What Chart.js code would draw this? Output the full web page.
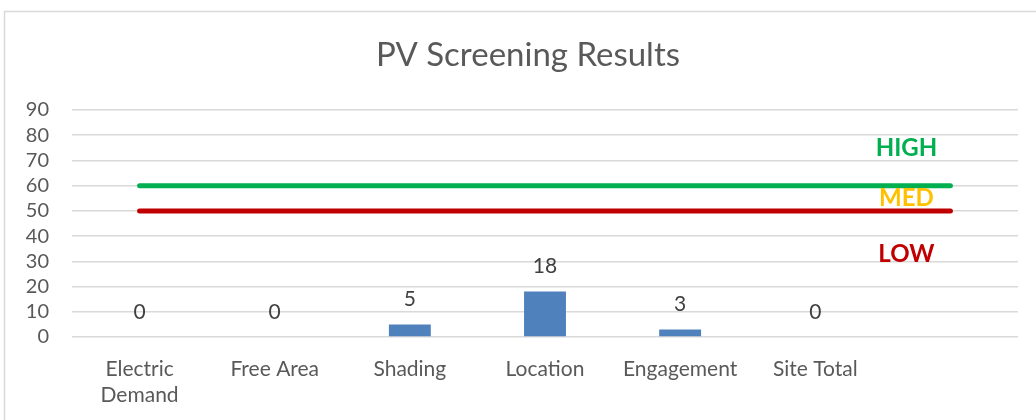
<!DOCTYPE html>
<html>
<head>
<meta charset="utf-8">
<script src="https://cdn.jsdelivr.net/npm/chart.js@4"></script>
<style>
  html, body { margin: 0; padding: 0; background: #fff; }
  #wrap { position: relative; width: 1036px; height: 420px; }
</style>
</head>
<body>
<div id="wrap"><canvas id="chart" width="1036" height="420"></canvas></div>
<script>
const categories = [['Electric', 'Demand'], 'Free Area', 'Shading', 'Location', 'Engagement', 'Site Total', ''];
const scores = [0, 0, 5, 18, 3, 0, null];
const highLine = [60, 60, 60, 60, 60, 60, 60];
const medLine = [50, 50, 50, 50, 50, 50, 50];
const bandLabels = ['HIGH', 'MED', 'LOW'];
const bandLabelValues = [75, 55, 33];
const bandColors = ['#00B050', '#FFC000', '#C00000'];

const FONT = 'Lato, "DejaVu Sans", sans-serif';

const extras = {
  id: 'extras',
  beforeDraw(chart) {
    const ctx = chart.ctx;
    ctx.save();
    ctx.fillStyle = '#fff';
    ctx.fillRect(0, 0, chart.width, chart.height);
    ctx.strokeStyle = '#d9d9d9';
    ctx.lineWidth = 1.5;
    ctx.strokeRect(4.5, 11.5, 1200, 600);
    ctx.restore();
  },
  afterDatasetsDraw(chart) {
    const ctx = chart.ctx;
    const x = chart.scales.x;
    const y = chart.scales.y;
    ctx.save();
    ctx.font = '33px ' + FONT;
    ctx.fillStyle = '#595959';
    ctx.textAlign = 'center';
    ctx.textBaseline = 'middle';
    ctx.fillText('PV Screening Results', 528, 55);

    // value labels above bars
    ctx.font = '21px ' + FONT;
    ctx.fillStyle = '#404040';
    scores.forEach((v, i) => {
      if (v === null) return;
      ctx.fillText(String(v), x.getPixelForValue(i), y.getPixelForValue(v) - 25);
    });

    // band labels
    ctx.font = 'bold 24px ' + FONT;
    bandLabels.forEach((t, i) => {
      ctx.fillStyle = bandColors[i];
      ctx.fillText(t, x.getPixelForValue(6) - 44, y.getPixelForValue(bandLabelValues[i]));
    });
    ctx.restore();
  }
};

new Chart(document.getElementById('chart').getContext('2d'), {
  type: 'bar',
  data: {
    labels: categories,
    datasets: [
      {
        type: 'line',
        data: highLine,
        borderColor: '#00B050',
        borderWidth: 5,
        borderCapStyle: 'round',
        pointRadius: 0,
        order: 0,
      },
      {
        type: 'line',
        data: medLine,
        borderColor: '#C00000',
        borderWidth: 5,
        borderCapStyle: 'round',
        pointRadius: 0,
        order: 0,
      },
      {
        data: scores,
        backgroundColor: '#4F81BD',
        barPercentage: 0.31,
        categoryPercentage: 1,
        order: 1,
      },
    ],
  },
  options: {
    responsive: false,
    animation: false,
    layout: { padding: { top: 110, right: 18, left: 0, bottom: 0 } },
    plugins: {
      legend: { display: false },
      tooltip: { enabled: false },
      title: { display: false },
    },
    scales: {
      x: {
        grid: { display: false, drawTicks: false },
        border: { display: false },
        ticks: {
          color: '#595959',
          font: { family: FONT, size: 21 },
          padding: 20,
          maxRotation: 0,
          autoSkip: false,
        },
        afterFit(s) { s.height = 83; },
      },
      y: {
        min: 0,
        max: 90,
        ticks: {
          stepSize: 10,
          autoSkip: false,
          color: '#595959',
          font: { family: FONT, size: 20 },
          padding: 23,
        },
        grid: { color: '#d9d9d9', lineWidth: 1.5, drawTicks: false },
        border: { display: false },
        afterFit(s) { s.width = 72; },
      },
    },
  },
  plugins: [extras],
});
</script>
</body>
</html>
